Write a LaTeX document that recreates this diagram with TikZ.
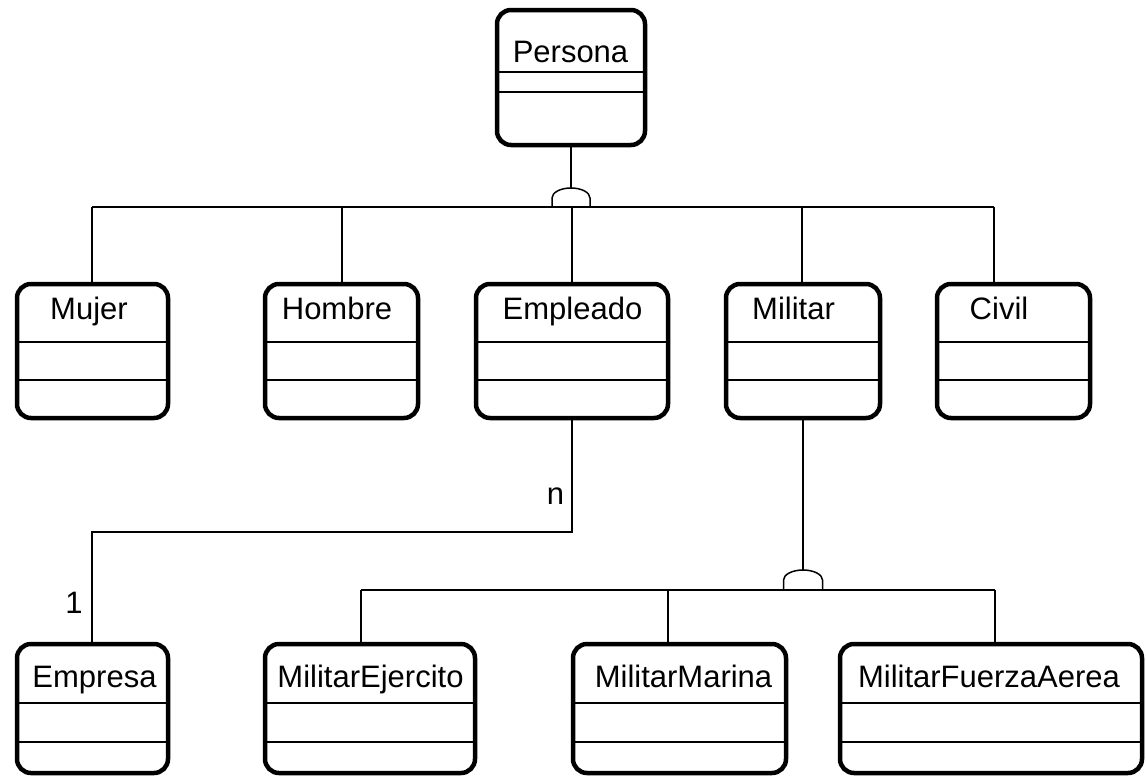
\documentclass[tikz,border=0pt]{standalone}
\usepackage{fontspec}
\setmainfont{Liberation Sans}
\begin{document}
\begin{tikzpicture}[x=1pt,y=-1pt,
  cls/.style={draw, line width=4.5pt, rounded corners=14pt, rectangle, inner sep=0pt},
  lbl/.style={anchor=base, inner sep=0pt, font=\fontsize{31}{36}\selectfont},
  thin/.style={line width=1.5pt},
]
\useasboundingbox (0,0) rectangle (1146,777);

% class box: name, centre x, centre y, width, height, two compartment lines
\newcommand\clsbox[7]{%
  \node[cls, minimum width=#4pt, minimum height=#5pt] (#1) at (#2,#3) {};
  \draw[thin] ({#2-#4/2},#6) -- ({#2+#4/2},#6);
  \draw[thin] ({#2-#4/2},#7) -- ({#2+#4/2},#7);
}

% top level
\clsbox{persona}{571}{77.5}{148}{135}{72}{92}
\node[lbl] (personaT) at (570.5,62) {Persona};

% second row
\clsbox{mujer}{92.5}{351}{151}{134}{342}{380}
\clsbox{hombre}{341.5}{351}{153}{134}{342}{380}
\clsbox{empleado}{572}{351}{192}{134}{342}{380}
\clsbox{militar}{803}{351}{154}{134}{342}{380}
\clsbox{civil}{1013.5}{351}{153}{134}{342}{380}
\node[lbl] (mujerT) at (89,319) {Mujer};
\node[lbl] (hombreT) at (337,319) {Hombre};
\node[lbl] (empleadoT) at (572.5,319) {Empleado};
\node[lbl] (militarT) at (793.5,319) {Militar};
\node[lbl] (civilT) at (999,319) {Civil};

% third row
\clsbox{empresa}{92.5}{708.5}{151}{129}{703}{742}
\clsbox{ejercito}{370}{708.5}{210}{129}{703}{742}
\clsbox{marina}{679.5}{708.5}{213}{129}{703}{742}
\clsbox{aerea}{991}{708.5}{302}{129}{703}{742}
\node[lbl] (empresaT) at (94.5,687) {Empresa};
\node[lbl] (ejercitoT) at (370.5,687) {MilitarEjercito};
\node[lbl] (marinaT) at (683.5,687) {MilitarMarina};
\node[lbl] (aereaT) at (989,687) {MilitarFuerzaAerea};

% generalisation of Persona
\coordinate (g1top) at (571,188);
\coordinate (b1) at (92,207);
\coordinate (b2) at (342,207);
\coordinate (b3) at (572,207);
\coordinate (b4) at (802,207);
\coordinate (b5) at (994,207);
\draw[thin] (persona.south) -- (g1top);
\draw[thin] (552,207) -- (552,198) arc[start angle=180, end angle=360, x radius=19, y radius=10] -- (590,207);
\draw[thin] (b1) -- (b5);
\draw[thin] (b1) -- (b1 |- mujer.north);
\draw[thin] (b2) -- (b2 |- hombre.north);
\draw[thin] (b3) -- (b3 |- empleado.north);
\draw[thin] (b4) -- (b4 |- militar.north);
\draw[thin] (b5) -- (b5 |- civil.north);

% association Empleado - Empresa
\coordinate (k1) at (92,532);
\draw[thin] (empleado.south) |- (k1) -- (k1 |- empresa.north);
\node[lbl] (mult-n) at (555.5,504) {n};
\node[lbl] (mult-1) at (74,613) {1};

% generalisation of Militar
\coordinate (g2top) at (803,570);
\coordinate (c1) at (361,590);
\coordinate (c2) at (668,590);
\coordinate (c3) at (995,590);
\draw[thin] (militar.south) -- (g2top);
\draw[thin] (783.5,590) -- (783.5,580) arc[start angle=180, end angle=360, x radius=19.5, y radius=10] -- (822.5,590);
\draw[thin] (c1) -- (c3);
\draw[thin] (c1) -- (c1 |- ejercito.north);
\draw[thin] (c2) -- (c2 |- marina.north);
\draw[thin] (c3) -- (c3 |- aerea.north);
\end{tikzpicture}
\end{document}
